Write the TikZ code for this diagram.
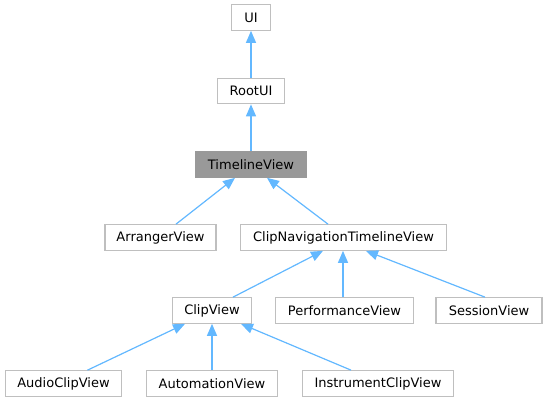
\documentclass[tikz,border=0pt]{standalone}
\usepackage{fontspec}
\setmainfont{DejaVu Sans}
\usetikzlibrary{arrows.meta,calc}
\definecolor{edgeblue}{HTML}{63B8FF}
\definecolor{boxgray}{HTML}{BFBFBF}
\tikzset{cls/.style={draw=boxgray, line width=1.2pt, fill=white, inner sep=0pt, minimum height=25.5pt, font=\fontsize{13}{15}\selectfont},
	wd/.style={minimum width=#1pt},
	inh/.style={{Triangle[length=12pt,width=10pt]}-, draw=edgeblue, fill=edgeblue, line width=1.2pt}}
\begin{document}
\begin{tikzpicture}[x=1pt, y=-1pt]
		\useasboundingbox (0,0) rectangle (546,403);
		\node(ui)[cls, wd=39] at (251,17.5){UI};
		\node(rootui)[cls, wd=67.5] at (251,91){RootUI};
		\node(timeline)[cls, wd=111, fill=gray!80, draw=gray!120!black] at (251,164.5){TimelineView};
		\node(arranger)[cls, wd=111] at (160.5,237.5){ArrangerView};
		\node(clipnav)[cls, wd=206.5] at (343.5,237.5){ClipNavigationTimelineView};
		\node(clipview)[cls, wd=79] at (212,310.5){ClipView};
		\node(perf)[cls, wd=138] at (344.5,310.5){PerformanceView};
		\node(session)[cls, wd=106] at (489,310.5){SessionView};
		\node(audio)[cls, wd=116] at (63.5,383.5){AudioClipView};
		\node(automation)[cls, wd=131] at (212,383.5){AutomationView};
		\node(instrument)[cls, wd=151] at (378,383.5){InstrumentClipView};
		\draw[inh](ui.south) -- (rootui.north);
		\draw[inh](rootui.south) -- (timeline.north);
		\draw[inh]($(timeline.south)+(-16,0)$) -- ($(arranger.north)+(15.5,0)$);
		\draw[inh]($(timeline.south)+(16,0)$) -- ($(clipnav.north)+(-15.5,0)$);
		\draw[inh]($(clipnav.south)+(-20.5,0)$) -- ($(clipview.north)+(21,0)$);
		\draw[inh]($(clipnav.south)+(-0.5,0)$) -- ($(clipnav.south |- perf.north)+(-0.5,0)$);
		\draw[inh]($(clipnav.south)+(22.5,0)$) -- ($(session.north)+(-4,0)$);
		\draw[inh]($(clipview.south)+(-27,0)$) -- ($(audio.north)+(24,0)$);
		\draw[inh](clipview.south) -- (automation.north);
		\draw[inh]($(clipview.south)+(29,0)$) -- ($(instrument.north)+(-27,0)$);
	\end{tikzpicture}
\end{document}
